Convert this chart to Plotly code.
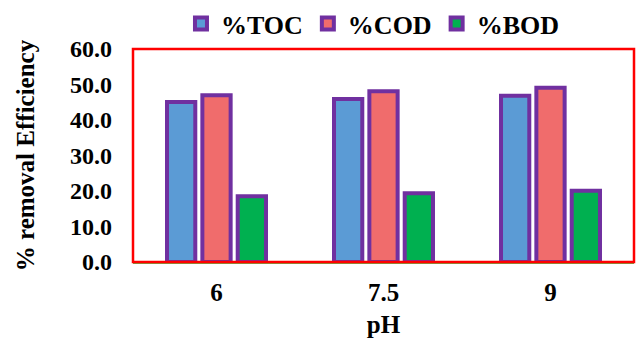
import plotly.graph_objects as go

categories = ["6", "7.5", "9"]
toc = [45.1, 45.9, 46.8]
cod = [47.0, 48.1, 49.1]
bod = [18.5, 19.4, 20.1]
y_ticks = [0, 10, 20, 30, 40, 50, 60]
y_tick_labels = ["0.0", "10.0", "20.0", "30.0", "40.0", "50.0", "60.0"]

font_family = "Liberation Serif"
outline = "#7030A0"

fig = go.Figure()
for name, vals, color in [("%TOC", toc, "#5B9BD5"), ("%COD", cod, "#F06C6C"), ("%BOD", bod, "#00B050")]:
    fig.add_trace(go.Bar(
        x=categories, y=vals, name=name,
        marker=dict(color=color, line=dict(color=outline, width=4)),
    ))

fig.update_layout(
    width=636, height=345,
    margin=dict(l=133, r=2, t=49, b=83, autoexpand=False),
    paper_bgcolor="white", plot_bgcolor="white",
    barmode="group", bargap=0.365, bargroupgap=0.2,
    font=dict(family=font_family, size=20, color="black"),
    showlegend=True,
    legend=dict(orientation="h", x=0.478, xanchor="center", y=1.0, yanchor="top",
                yref="container", font=dict(family=font_family, size=26, color="black", weight="bold"),
                itemwidth=30, traceorder="normal"),
    xaxis=dict(
        type="category", showgrid=False, showline=True, linecolor="#70AD47", linewidth=2,
        ticks="", tickfont=dict(family=font_family, size=25, weight="bold"),
        title=dict(text="<b>pH</b>", font=dict(family=font_family, size=25), standoff=10),
        ticklabelstandoff=7,
    ),
    yaxis=dict(
        range=[0, 60], tickvals=y_ticks, ticktext=y_tick_labels, showgrid=False,
        zeroline=False, showline=False, ticks="",
        tickfont=dict(family=font_family, size=24, weight="bold"),
        title=dict(text="<b>% removal Efficiency</b>", font=dict(family=font_family, size=25), standoff=28),
        ticklabelstandoff=20,
    ),
    shapes=[dict(type="rect", xref="paper", yref="paper", x0=0, x1=1, y0=0, y1=1,
                 line=dict(color="red", width=2.5), layer="above")],
)

fig.write_html("out.html")
